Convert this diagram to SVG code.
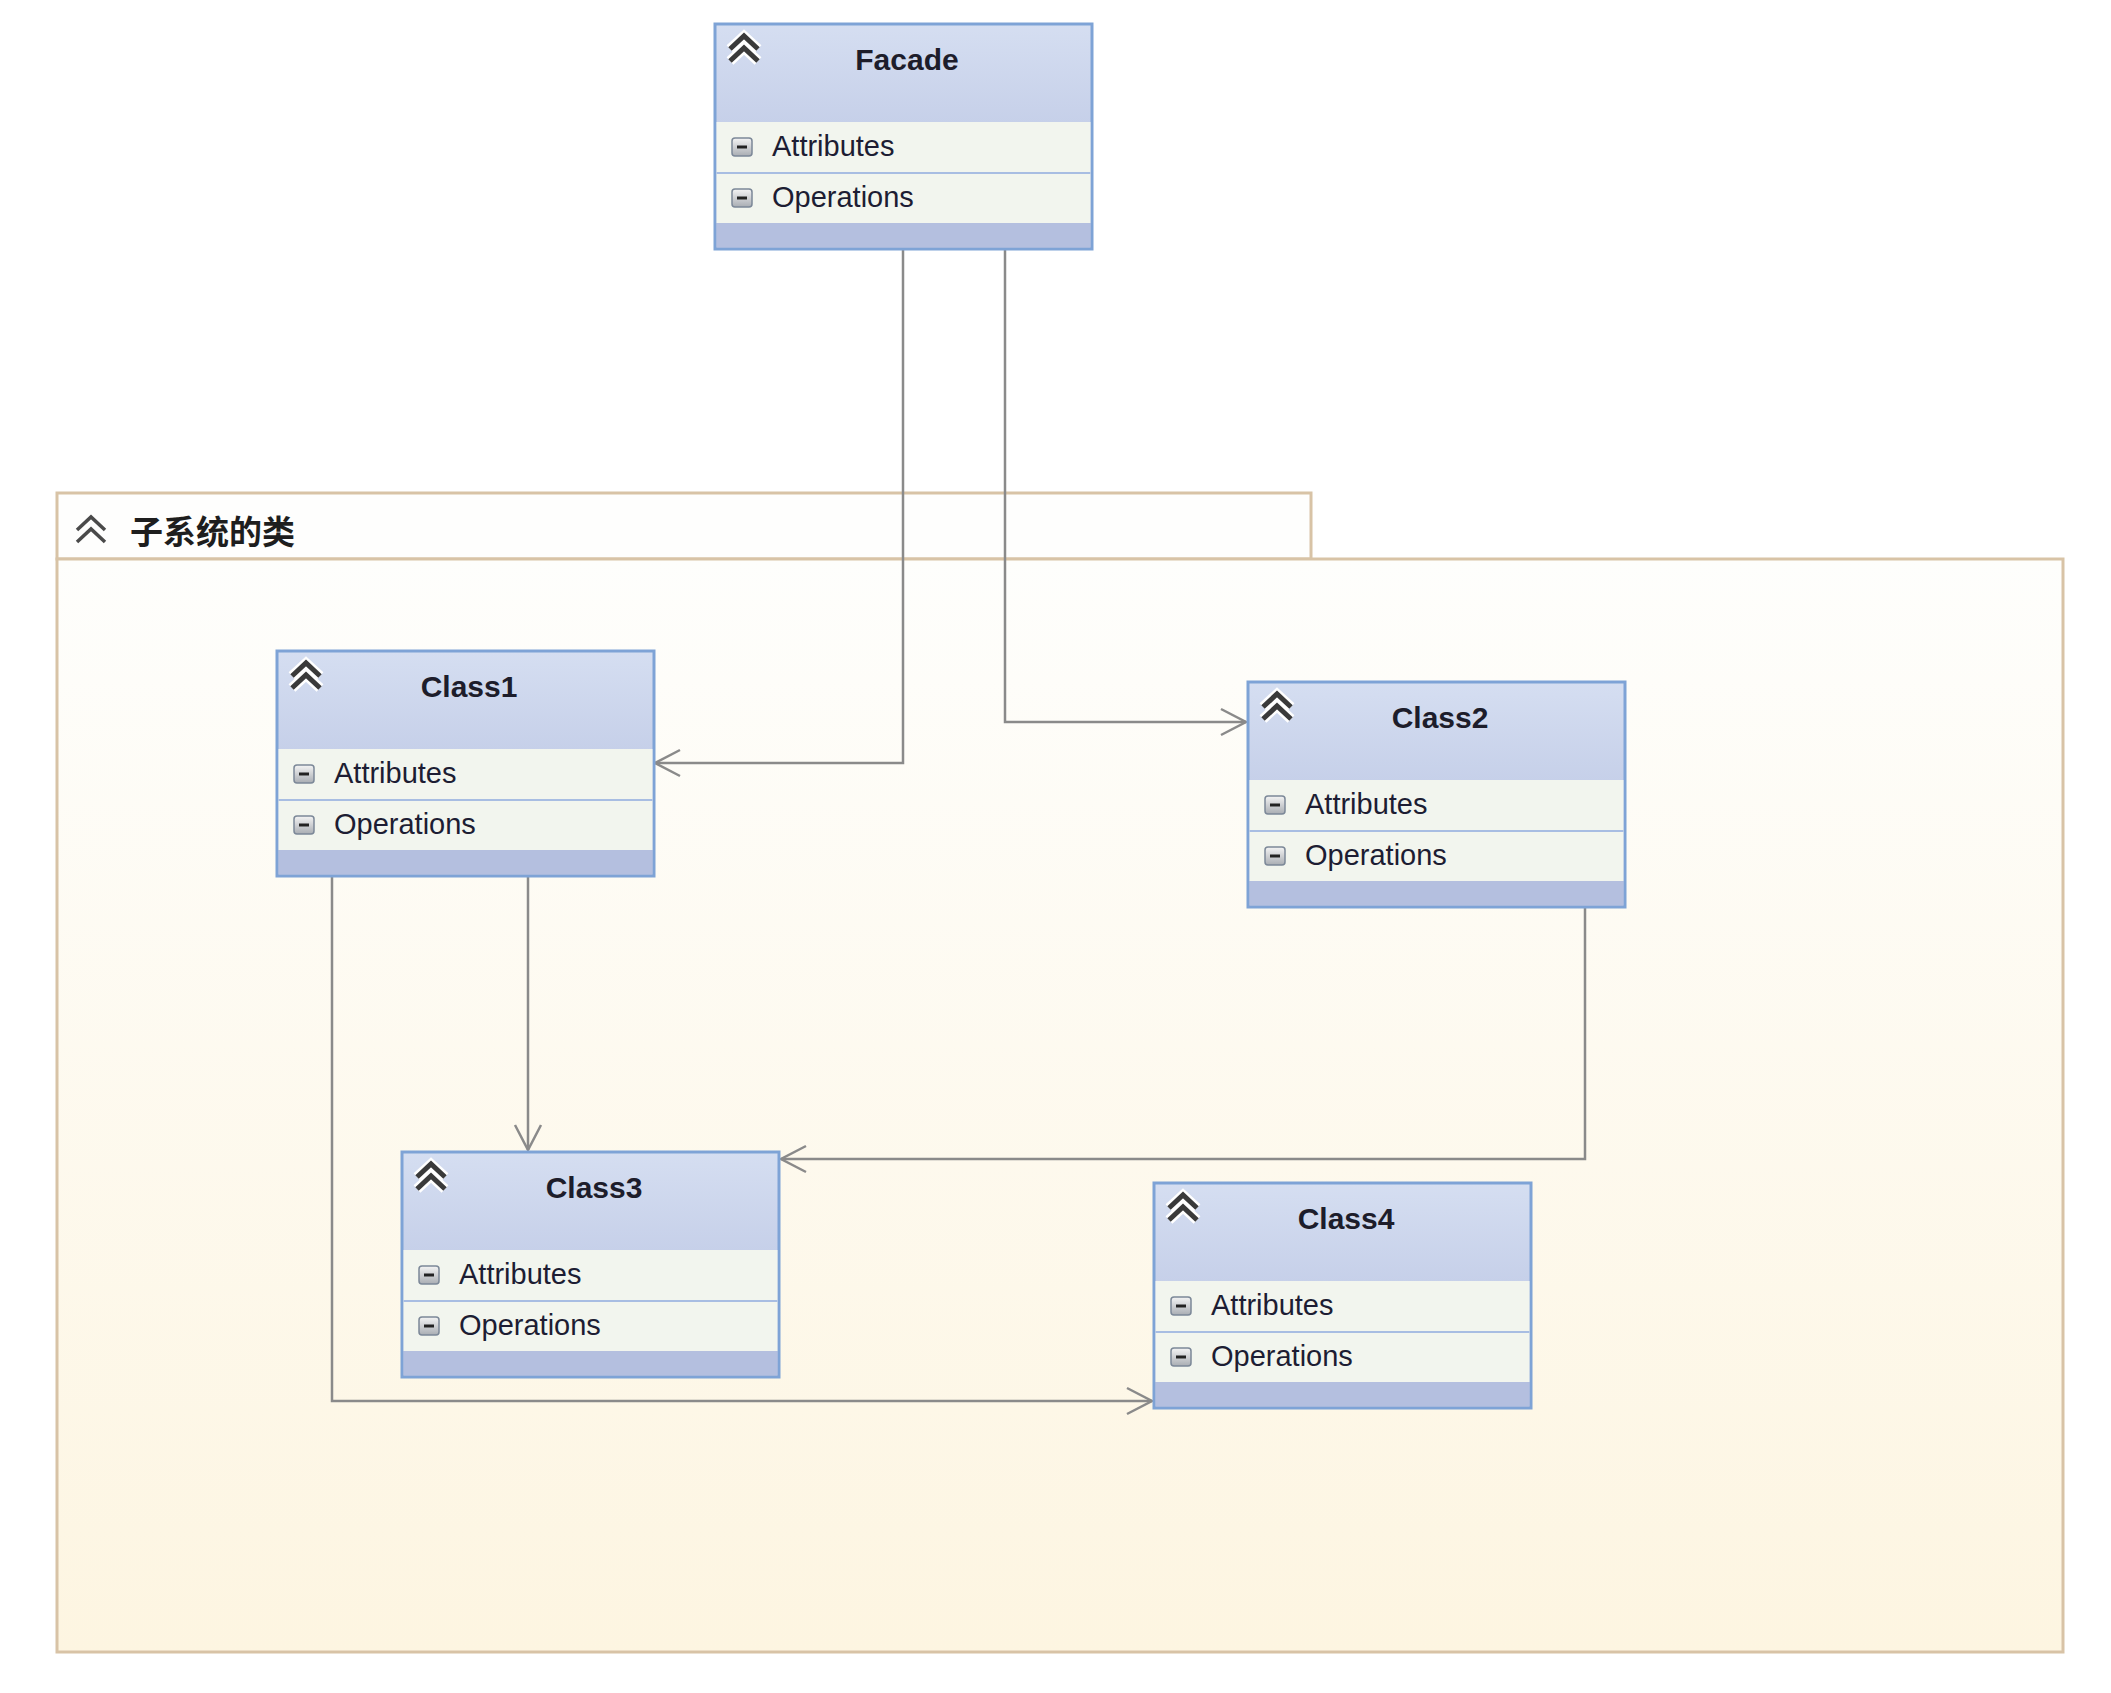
<svg xmlns="http://www.w3.org/2000/svg" width="2111" height="1693" viewBox="0 0 2111 1693">
<defs>
<linearGradient id="hdr" x1="0" y1="0" x2="0" y2="1">
<stop offset="0" stop-color="#d5def1"/>
<stop offset="1" stop-color="#b3bedf"/>
</linearGradient>
<linearGradient id="pkg" x1="0" y1="0" x2="0" y2="1">
<stop offset="0" stop-color="#fefefc"/>
<stop offset="1" stop-color="#fdf5e1"/>
</linearGradient>
<linearGradient id="btn" x1="0" y1="0" x2="0" y2="1">
<stop offset="0" stop-color="#f4f4f4"/>
<stop offset="1" stop-color="#a9adb3"/>
</linearGradient>
<marker id="arr" markerUnits="userSpaceOnUse" markerWidth="40" markerHeight="40" viewBox="-30 -20 40 40" refX="0" refY="0" orient="auto">
<path d="M -25 -13 L 0 0 L -25 13" fill="none" stroke="#8a8a8a" stroke-width="2.5"/>
</marker>
</defs>
<style>
.frame{fill:url(#hdr);stroke:#7ea3d6;stroke-width:3}
.row{fill:#f2f5ee}
.sep{stroke:#a8bde2;stroke-width:2}
.band{fill:#b4bfdf}
.title{font-family:"Liberation Sans",Arial,sans-serif;font-weight:bold;font-size:30px;fill:#1d1d2b;text-anchor:middle}
.item{font-family:"Liberation Sans",Arial,sans-serif;font-size:29px;fill:#1d1d33}
.btnbox{fill:url(#btn);stroke:#7c8898;stroke-width:1.5}
.minus{stroke:#222;stroke-width:3}
.chevh{fill:none;stroke:#ffffff;stroke-width:10;stroke-linejoin:miter}
.chev{fill:none;stroke:#3a3a3a;stroke-width:5}
.conn{fill:none;stroke:#8a8a8a;stroke-width:2.5}
.pkgline{stroke:#d8c3a6;stroke-width:3}
.pkglabel{font-family:"Noto Sans CJK SC","Liberation Sans",sans-serif;font-weight:bold;font-size:33px;fill:#1e1e1e}
</style>

<g id="package">
<rect x="57" y="493" width="1254" height="66" fill="#fefefd" class="pkgline"/>
<rect x="57" y="559" width="2006" height="1093" fill="url(#pkg)" class="pkgline"/>
<path d="M77 530 L91 517 L105 530 M77 542 L91 529 L105 542" fill="none" stroke="#4a4a4a" stroke-width="3.5"/>
<text x="130" y="544" class="pkglabel">子系统的类</text>
</g>

<g id="connectors">
<path class="conn" d="M903 249 V763 H655" marker-end="url(#arr)"/>
<path class="conn" d="M1005 249 V722 H1246" marker-end="url(#arr)"/>
<path class="conn" d="M528 876 V1150" marker-end="url(#arr)"/>
<path class="conn" d="M332 876 V1401 H1152" marker-end="url(#arr)"/>
<path class="conn" d="M1585 907 V1159 H781" marker-end="url(#arr)"/>
</g>

<g id="Facade" transform="translate(715,24)">
<rect class="frame" x="0" y="0" width="377" height="225"/>
<rect class="row" x="1.5" y="98" width="374" height="101"/>
<line class="sep" x1="1.5" y1="149" x2="375.5" y2="149"/>
<rect class="band" x="1.5" y="199" width="374" height="24.5"/>
<path class="chevh" d="M15 25 L29 12 L43 25 M15 37 L29 24 L43 37"/>
<path class="chev" d="M15 25 L29 12 L43 25 M15 37 L29 24 L43 37"/>
<text class="title" x="192" y="46">Facade</text>
<rect class="btnbox" x="17" y="114" width="20" height="18" rx="3"/>
<line class="minus" x1="22" y1="123" x2="32" y2="123"/>
<text class="item" x="57" y="132">Attributes</text>
<rect class="btnbox" x="17" y="165" width="20" height="18" rx="3"/>
<line class="minus" x1="22" y1="174" x2="32" y2="174"/>
<text class="item" x="57" y="183">Operations</text>
</g>

<g id="Class1" transform="translate(277,651)">
<rect class="frame" x="0" y="0" width="377" height="225"/>
<rect class="row" x="1.5" y="98" width="374" height="101"/>
<line class="sep" x1="1.5" y1="149" x2="375.5" y2="149"/>
<rect class="band" x="1.5" y="199" width="374" height="24.5"/>
<path class="chevh" d="M15 25 L29 12 L43 25 M15 37 L29 24 L43 37"/>
<path class="chev" d="M15 25 L29 12 L43 25 M15 37 L29 24 L43 37"/>
<text class="title" x="192" y="46">Class1</text>
<rect class="btnbox" x="17" y="114" width="20" height="18" rx="3"/>
<line class="minus" x1="22" y1="123" x2="32" y2="123"/>
<text class="item" x="57" y="132">Attributes</text>
<rect class="btnbox" x="17" y="165" width="20" height="18" rx="3"/>
<line class="minus" x1="22" y1="174" x2="32" y2="174"/>
<text class="item" x="57" y="183">Operations</text>
</g>

<g id="Class2" transform="translate(1248,682)">
<rect class="frame" x="0" y="0" width="377" height="225"/>
<rect class="row" x="1.5" y="98" width="374" height="101"/>
<line class="sep" x1="1.5" y1="149" x2="375.5" y2="149"/>
<rect class="band" x="1.5" y="199" width="374" height="24.5"/>
<path class="chevh" d="M15 25 L29 12 L43 25 M15 37 L29 24 L43 37"/>
<path class="chev" d="M15 25 L29 12 L43 25 M15 37 L29 24 L43 37"/>
<text class="title" x="192" y="46">Class2</text>
<rect class="btnbox" x="17" y="114" width="20" height="18" rx="3"/>
<line class="minus" x1="22" y1="123" x2="32" y2="123"/>
<text class="item" x="57" y="132">Attributes</text>
<rect class="btnbox" x="17" y="165" width="20" height="18" rx="3"/>
<line class="minus" x1="22" y1="174" x2="32" y2="174"/>
<text class="item" x="57" y="183">Operations</text>
</g>

<g id="Class3" transform="translate(402,1152)">
<rect class="frame" x="0" y="0" width="377" height="225"/>
<rect class="row" x="1.5" y="98" width="374" height="101"/>
<line class="sep" x1="1.5" y1="149" x2="375.5" y2="149"/>
<rect class="band" x="1.5" y="199" width="374" height="24.5"/>
<path class="chevh" d="M15 25 L29 12 L43 25 M15 37 L29 24 L43 37"/>
<path class="chev" d="M15 25 L29 12 L43 25 M15 37 L29 24 L43 37"/>
<text class="title" x="192" y="46">Class3</text>
<rect class="btnbox" x="17" y="114" width="20" height="18" rx="3"/>
<line class="minus" x1="22" y1="123" x2="32" y2="123"/>
<text class="item" x="57" y="132">Attributes</text>
<rect class="btnbox" x="17" y="165" width="20" height="18" rx="3"/>
<line class="minus" x1="22" y1="174" x2="32" y2="174"/>
<text class="item" x="57" y="183">Operations</text>
</g>

<g id="Class4" transform="translate(1154,1183)">
<rect class="frame" x="0" y="0" width="377" height="225"/>
<rect class="row" x="1.5" y="98" width="374" height="101"/>
<line class="sep" x1="1.5" y1="149" x2="375.5" y2="149"/>
<rect class="band" x="1.5" y="199" width="374" height="24.5"/>
<path class="chevh" d="M15 25 L29 12 L43 25 M15 37 L29 24 L43 37"/>
<path class="chev" d="M15 25 L29 12 L43 25 M15 37 L29 24 L43 37"/>
<text class="title" x="192" y="46">Class4</text>
<rect class="btnbox" x="17" y="114" width="20" height="18" rx="3"/>
<line class="minus" x1="22" y1="123" x2="32" y2="123"/>
<text class="item" x="57" y="132">Attributes</text>
<rect class="btnbox" x="17" y="165" width="20" height="18" rx="3"/>
<line class="minus" x1="22" y1="174" x2="32" y2="174"/>
<text class="item" x="57" y="183">Operations</text>
</g>
</svg>
